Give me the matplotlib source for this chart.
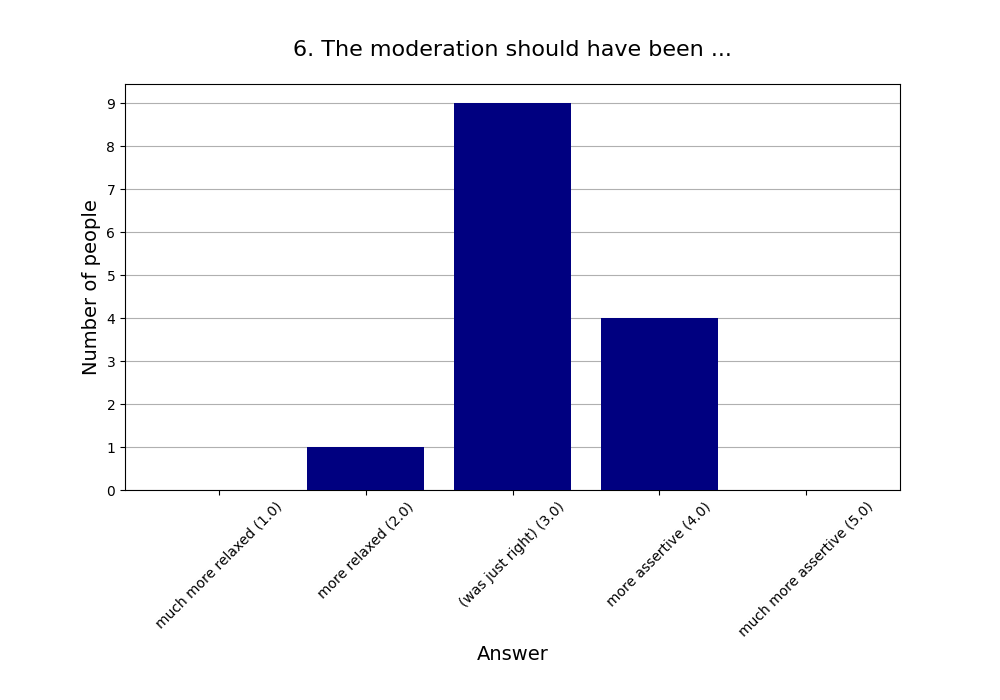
import matplotlib
matplotlib.use("Agg")
import matplotlib.pyplot as plt

# survey answers and counts
answers = [
    "much more relaxed (1.0)",
    "more relaxed (2.0)",
    "(was just right) (3.0)",
    "more assertive (4.0)",
    "much more assertive (5.0)",
]
counts = [0, 1, 9, 4, 0]

fig = plt.figure(figsize=(10, 7), dpi=100)
ax = fig.add_axes([0.125, 0.3, 0.775, 0.58])

ax.bar(range(len(answers)), counts, width=0.8, color="navy", zorder=3)
ax.set_xticks(range(len(answers)))
ax.set_xticklabels(answers, rotation=45)
ax.set_yticks(range(0, max(counts) + 1))
ax.yaxis.grid(True, color="#b0b0b0", zorder=0)
ax.set_axisbelow(True)

ax.set_title("6. The moderation should have been ...", fontsize=16, pad=20)
ax.set_xlabel("Answer", fontsize=14)
ax.set_ylabel("Number of people", fontsize=14)

fig.savefig("out.png", dpi=100)
